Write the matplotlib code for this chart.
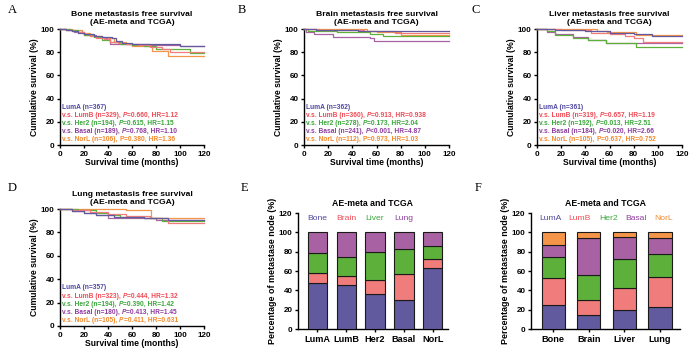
import matplotlib
matplotlib.use("Agg")
import matplotlib.pyplot as plt
import numpy as np

plt.rcParams['font.family'] = ['Liberation Sans', 'DejaVu Sans']
plt.rcParams['font.weight'] = 'bold'

# ---------------- data ----------------
groups = ["LumA", "LumB", "Her2", "Basal", "NorL"]
sites = ["Bone", "Brain", "Liver", "Lung"]
col_group = ["#615A9E", "#F07C7C", "#5DB13B", "#A862A3", "#F5954A"]
txt_group = ["#4F47A0", "#EE4B55", "#3AA63A", "#8E3D9E", "#F3892C"]

km_titles = ["Bone metastasis free survival", "Brain metastasis free survival",
             "Liver metastasis free survival", "Lung metastasis free survival"]

# step change points (months, % survival) per site, per subtype
bone_t = {
    "LumA": [0, 5, 10, 15, 20, 28, 35, 43, 47, 52, 60, 80, 100, 120],
    "LumB": [0, 5, 10, 15, 20, 25, 30, 37, 42, 48, 55, 65, 75, 85, 92, 120],
    "Her2": [0, 8, 15, 20, 28, 35, 42, 50, 60, 70, 80, 108, 120],
    "Basal": [0, 5, 12, 20, 30, 38, 42, 55, 65, 75, 100, 120],
    "NorL": [0, 10, 18, 25, 35, 45, 55, 60, 77, 90, 120],
}
bone_s = {
    "LumA": [100, 99, 98, 96.5, 95.5, 94, 93.5, 92, 89.5, 88, 87, 87, 85.5, 85.5],
    "LumB": [100, 99.5, 98.5, 97, 95.5, 94, 92.5, 91, 89, 88, 87, 86, 84.5, 83, 80, 80],
    "Her2": [100, 99, 97.5, 95, 93, 90.5, 88.5, 87, 86.5, 85, 83, 79.5, 79.5],
    "Basal": [100, 99, 97, 95, 93, 91, 87.5, 87, 87, 86.5, 85.5, 85.5],
    "NorL": [100, 99, 96.5, 94, 92, 89, 87, 85, 81, 76.5, 76.5],
}
brain_t = {
    "LumA": [0, 10, 25, 45, 70, 120],
    "LumB": [0, 12, 30, 50, 75, 120],
    "Her2": [0, 3, 27, 55, 65, 120],
    "Basal": [0, 2, 8, 24, 40, 55, 58, 120],
    "NorL": [0, 47, 52, 60, 80, 120],
}
brain_s = {
    "LumA": [100, 99.5, 99, 98.5, 98, 98],
    "LumB": [100, 99.5, 99, 98, 96.3, 96.3],
    "Her2": [100, 98.5, 97.7, 95.5, 94, 94],
    "Basal": [100, 97.7, 95.7, 93.4, 93, 92.5, 90, 90],
    "NorL": [100, 100, 98.5, 97, 95, 95],
}
liver_t = {
    "LumA": [0, 15, 40, 60, 80, 95, 120],
    "LumB": [0, 20, 45, 60, 73, 80, 88, 120],
    "Her2": [0, 8, 15, 30, 42, 57, 82, 120],
    "Basal": [0, 8, 15, 30, 42, 57, 120],
    "NorL": [0, 35, 50, 58, 82, 120],
}
liver_s = {
    "LumA": [100, 99, 98, 96.5, 95.5, 94.3, 94.3],
    "LumB": [100, 99, 96.5, 95.5, 94, 92, 88.5, 88.5],
    "Her2": [100, 98, 95, 92.5, 90.3, 88.3, 84.2, 84.2],
    "Basal": [100, 97.5, 95.5, 93, 90.5, 88.2, 88.2],
    "NorL": [100, 100, 98.5, 97.5, 94.6, 94.6],
}
lung_t = {
    "LumA": [0, 10, 20, 30, 45, 70, 90, 120],
    "LumB": [0, 10, 25, 40, 55, 75, 90, 120],
    "Her2": [0, 15, 30, 40, 50, 70, 85, 120],
    "Basal": [0, 10, 20, 30, 40, 60, 80, 120],
    "NorL": [0, 55, 76, 120],
}
lung_s = {
    "LumA": [100, 98.5, 97, 95, 93.5, 92.5, 91, 91],
    "LumB": [100, 99, 97.5, 95.5, 94, 92, 88, 88],
    "Her2": [100, 99, 97, 95, 93, 92, 89.5, 89.5],
    "Basal": [100, 98.5, 96.5, 94.5, 92.5, 92, 90.5, 90.5],
    "NorL": [100, 99, 92.5, 92.5],
}
km_t = [bone_t, brain_t, liver_t, lung_t]
km_s = [bone_s, brain_s, liver_s, lung_s]

km_n = [
    [367, 329, 194, 189, 106],
    [362, 360, 278, 241, 112],
    [361, 319, 192, 184, 105],
    [357, 323, 194, 180, 105],
]
km_p = [
    ["", "0.660", "0.615", "0.768", "0.380"],
    ["", "0.913", "0.173", "<0.001", "0.973"],
    ["", "0.657", "0.013", "0.020", "0.637"],
    ["", "0.444", "0.390", "0.413", "0.411"],
]
km_hr = [
    ["", "1.12", "1.15", "1.10", "1.36"],
    ["", "0.938", "2.04", "4.87", "1.03"],
    ["", "1.19", "2.51", "2.66", "0.752"],
    ["", "1.32", "1.42", "1.45", "0.631"],
]

# bar chart E: rows = sites, cols = subtypes (percent)
e_bone = [48, 46, 36, 30, 63]
e_brain = [10, 9, 15, 27, 9]
e_liver = [21, 20, 29, 26, 14]
e_lung = [21, 25, 20, 17, 14]
e_vals = [e_bone, e_brain, e_liver, e_lung]
col_site = ["#615A9E", "#F07C7C", "#5DB13B", "#A862A3"]
txt_site = ["#4F47A0", "#EE4B55", "#3AA63A", "#8E3D9E"]

# bar chart F: rows = subtypes, cols = sites
f_luma = [25, 15, 20, 23]
f_lumb = [28, 15, 22, 31]
f_her2 = [21, 26, 30, 24]
f_basal = [13, 38, 23, 16]
f_norl = [13, 6, 5, 6]
f_vals = [f_luma, f_lumb, f_her2, f_basal, f_norl]

W, H = 700, 355
fig = plt.figure(figsize=(7.0, 3.55), dpi=100)


def rect(l, t, r, b):
    return [l / W, 1 - b / H, (r - l) / W, (b - t) / H]


def style_axes(ax, fs=5.8):
    for s in ["top", "right"]:
        ax.spines[s].set_visible(False)
    for s in ["left", "bottom"]:
        ax.spines[s].set_linewidth(1.0)
    ax.tick_params(direction="out", length=2.5, width=1.0, labelsize=fs, pad=1.5)
    for lab in ax.get_xticklabels() + ax.get_yticklabels():
        lab.set_fontweight("bold")


def chain_text(ax, x, y, pieces, color, fs):
    """pieces: list of (text, italic) drawn one after another on one line."""
    first = ax.text(x, y, pieces[0][0], color=color, fontsize=fs, fontweight="bold",
                    style="italic" if pieces[0][1] else "normal",
                    va="center", ha="left")
    prev = first
    for txt, it in pieces[1:]:
        prev = ax.annotate(txt, xy=(1, 0), xycoords=prev, color=color, fontsize=fs,
                           fontweight="bold", style="italic" if it else "normal",
                           va="bottom", ha="left")


km_rects = [rect(60, 29, 204, 145), rect(304, 29, 449, 145),
            rect(537, 29, 682, 145), rect(60, 209, 204, 326)]
letters = ["A", "B", "C", "D", "E", "F"]
letter_pos = [(8, 10), (238, 10), (472, 10), (8, 188), (241, 188), (475, 188)]

for i in range(4):
    ax = fig.add_axes(km_rects[i])
    for g, name in enumerate(groups):
        ax.step(km_t[i][name], km_s[i][name], where="post", color=col_group[g],
                lw=0.9, clip_on=False, zorder=3 + (4 - g) * 0.1)
    ax.set_xlim(0, 120)
    ax.set_ylim(0, 100)
    ax.set_xticks(np.arange(0, 121, 20))
    ax.set_yticks(np.arange(0, 101, 20))
    style_axes(ax)
    ax.set_xlabel("Survival time (months)", fontsize=6.2, fontweight="bold", labelpad=0.5)
    ax.set_ylabel("Cumulative survival (%)", fontsize=6.2, fontweight="bold", labelpad=1)
    ax.set_title(km_titles[i] + "\n(AE-meta and TCGA)", fontsize=6.1,
                 fontweight="bold", pad=3.5, linespacing=1.2)
    ys = [32.6, 25.6, 18.6, 11.6, 4.6]
    for g, name in enumerate(groups):
        if g == 0:
            pieces = [(f"{name} (n={km_n[i][g]})", False)]
        else:
            p = km_p[i][g]
            sep = "" if p.startswith("<") else "="
            italic_p = not (name == "NorL" and i < 3)
            pieces = [(f"v.s. {name} (n={km_n[i][g]}), ", False), ("P", italic_p),
                      (f"{sep}{p}, HR={km_hr[i][g]}", False)]
        chain_text(ax, 1.8, ys[g], pieces, txt_group[g], 4.8)

# E
axE = fig.add_axes(rect(298, 213, 448, 329))
xe = np.arange(len(groups))
bottom = np.zeros(len(groups))
for k in range(4):
    axE.bar(xe, e_vals[k], 0.66, bottom=bottom, color=col_site[k],
            edgecolor="#1a1a1a", linewidth=0.8, zorder=3)
    bottom += np.array(e_vals[k])
axE.set_xlim(-0.66, 4.52)
axE.set_ylim(0, 120)
axE.set_yticks(np.arange(0, 121, 20))
axE.set_xticks(xe)
axE.set_xticklabels(groups)
style_axes(axE)
axE.tick_params(axis="x", labelsize=6.6, length=2.5)
axE.set_ylabel("Percentage of metastase node (%)", fontsize=6.4, fontweight="bold", labelpad=1)
axE.set_title("AE-meta and TCGA", fontsize=6.3, fontweight="bold", pad=5)
for k in range(4):
    axE.text(k, 114, sites[k], color=txt_site[k], fontsize=6.1,
             fontweight="normal", ha="center", va="center")

# F
axF = fig.add_axes(rect(531, 213, 680, 329))
xf = np.arange(len(sites))
bottom = np.zeros(len(sites))
for g in range(5):
    axF.bar(xf, f_vals[g], 0.65, bottom=bottom, color=col_group[g],
            edgecolor="#1a1a1a", linewidth=0.8, zorder=3)
    bottom += np.array(f_vals[g])
axF.set_xlim(-0.62, 3.56)
axF.set_ylim(0, 120)
axF.set_yticks(np.arange(0, 121, 20))
axF.set_xticks(xf)
axF.set_xticklabels(sites)
style_axes(axF)
axF.tick_params(axis="x", labelsize=6.6, length=2.5)
axF.set_ylabel("Percentage of metastase node (%)", fontsize=6.4, fontweight="bold", labelpad=1)
axF.set_title("AE-meta and TCGA", fontsize=6.3, fontweight="bold", pad=5)
fx = [-0.08, 0.73, 1.55, 2.33, 3.1]
for g in range(5):
    axF.text(fx[g], 114, groups[g], color=txt_group[g], fontsize=6.1,
             fontweight="normal", ha="center", va="center")

for L, (px, py) in zip(letters, letter_pos):
    fig.text(px / W, 1 - py / H, L, fontsize=9, family="Liberation Serif",
             fontweight="normal", ha="left", va="center")

fig.savefig("out.png", dpi=100)
